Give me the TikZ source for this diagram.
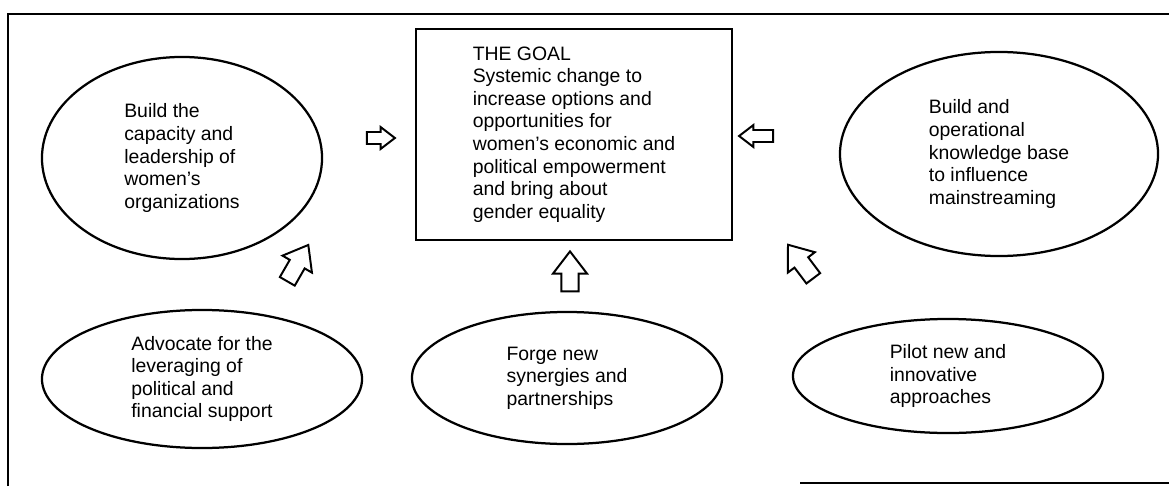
\documentclass[tikz,border=0pt]{standalone}
\usepackage{fontspec}
\setmainfont{Liberation Sans}
\usetikzlibrary{shapes.geometric,shapes.arrows}

\begin{document}
\begin{tikzpicture}[x=0.025cm,y=-0.025cm,
    txt/.style={font=\fontsize{13.8}{16.1}\selectfont,align=left},
    aim/.style={txt,ellipse,draw,line width=1.6pt,inner sep=1pt},
    goalbox/.style={txt,rectangle,draw,line width=1.2pt,minimum width=7.9cm,minimum height=5.275cm},
    push/.style={single arrow,draw,line width=1.4pt,inner xsep=0pt,single arrow tip angle=75},
    smallpush/.style={push,inner ysep=0.125cm,single arrow head extend=0.125cm},
    bigpush/.style={push,inner ysep=0.19cm,single arrow head extend=0.21cm,minimum height=1.05cm}]
    \useasboundingbox (0,0) rectangle (1169,486);

    % Frame
    \draw[line width=1.4pt] (8,486) -- (8,14) -- (1169,14);
    \draw[line width=1.4pt] (800,483) -- (1169,483);

    % The goal
    \node[goalbox] (goal) at (574,134.5) {THE GOAL\\Systemic change to\\increase options and\\opportunities for\\women's economic and\\political empowerment\\and bring about\\gender equality};

    % Upper ideas
    \node[aim,minimum width=7cm,minimum height=5.05cm] (capacity) at (182,158)
        {Build the\\capacity and\\leadership of\\women's\\organizations};
    \node[aim,minimum width=7.95cm,minimum height=5.1cm] (knowledge) at (999,154)
        {Build and\\operational\\knowledge base\\to influence\\mainstreaming};

    % Lower ideas
    \node[aim,minimum width=8cm,minimum height=3.45cm] (advocate) at (202,379)
        {Advocate for the\\leveraging of\\political and\\financial support};
    \node[aim,minimum width=7.75cm,minimum height=3.3cm] (forge) at (567,378)
        {Forge new\\synergies and\\partnerships};
    \node[aim,minimum width=7.75cm,minimum height=2.85cm] (pilot) at (948,376)
        {Pilot new and\\innovative\\approaches};

    % Block arrows
    \node[smallpush,minimum height=0.7cm] (toright) at (377,138) {};
    \node[smallpush,minimum height=0.85cm,rotate=180] (toleft) at (760,136) {};
    \node[bigpush,minimum height=1cm,rotate=90] (toup) at (570,277) {};
    \node[bigpush,rotate=60] (toupright) at (295,268) {};
    \node[bigpush,rotate=127] (toupleft) at (804,266) {};
\end{tikzpicture}
\end{document}
